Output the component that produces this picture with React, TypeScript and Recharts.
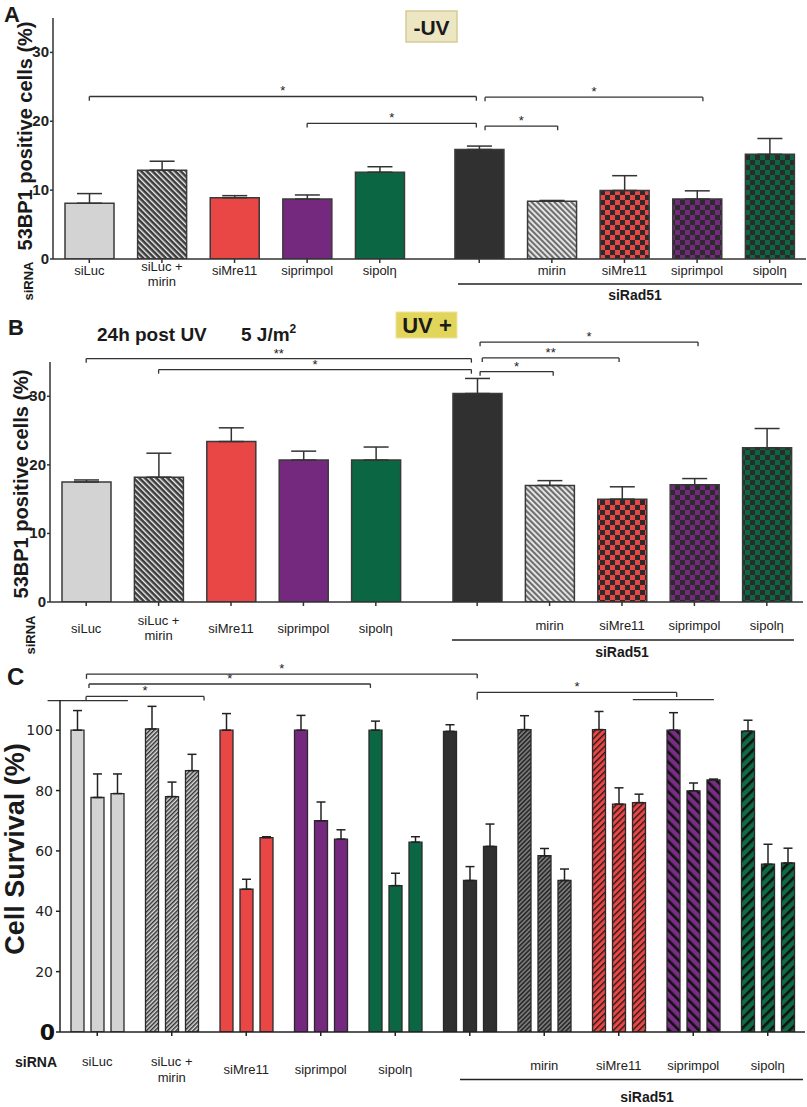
import React from 'react';
import { BarChart, Bar, XAxis, YAxis, ErrorBar, ReferenceLine, Cell } from 'recharts';

const FONT = '"Liberation Sans", Arial, Helvetica, sans-serif';

// Categories: first five without siRad51, last five with siRad51
const categories = ['siLuc', 'siLuc + mirin', 'siMre11', 'siprimpol', 'sipolη', 'siRad51', 'siRad51 + mirin', 'siRad51 + siMre11', 'siRad51 + siprimpol', 'siRad51 + sipolη'];
const tickLabels = ['siLuc', 'siLuc +\nmirin', 'siMre11', 'siprimpol', 'sipolη', '', 'mirin', 'siMre11', 'siprimpol', 'sipolη'];

// Panel A: -UV, 53BP1 positive cells (%)
const noUvValues = [8.1, 12.9, 8.9, 8.7, 12.6, 15.9, 8.4, 9.95, 8.7, 15.2];
const noUvErrors = [1.4, 1.3, 0.3, 0.6, 0.8, 0.5, 0.1, 2.15, 1.2, 2.3];
// Panel B: UV +, 53BP1 positive cells (%)
const uvValues = [17.5, 18.2, 23.4, 20.7, 20.7, 30.4, 17.0, 15.0, 17.1, 22.5];
const uvErrors = [0.3, 3.5, 2.0, 1.3, 1.9, 2.2, 0.7, 1.8, 0.9, 2.8];
// Panel C: cell survival (%), three bars per condition
const survival1 = [100, 100.4, 100, 100, 100, 99.6, 100.2, 100.2, 100, 99.7];
const survival1Err = [6.5, 7.5, 5.5, 4.9, 3.0, 2.2, 4.6, 6.0, 5.8, 3.6];
const survival2 = [77.7, 78.0, 47.3, 70.0, 48.5, 50.2, 58.4, 75.5, 79.9, 55.6];
const survival2Err = [7.8, 4.8, 3.3, 6.2, 4.1, 4.6, 2.4, 5.4, 2.6, 6.6];
const survival3 = [79.0, 86.6, 64.4, 63.9, 62.9, 61.5, 50.2, 76.0, 83.5, 56.0];
const survival3Err = [6.5, 5.4, 0.3, 3.1, 1.8, 7.4, 3.8, 2.8, 0.3, 4.9];

const pctTicks = [0, 10, 20, 30];
const survivalTicks = [0, 20, 40, 60, 80, 100];

type Bracket = { from: number; to: number; level: number; label: string; fromDrop?: number; toDrop?: number };
// significance brackets (category index based)
const noUvBrackets: Bracket[] = [
  { from: 0, to: 4.96, level: 23.6, label: '*' },
  { from: 3, to: 4.96, level: 19.7, label: '*' },
  { from: 5.08, to: 8.08, level: 23.5, label: '*' },
  { from: 5.08, to: 6.08, level: 19.3, label: '*' },
];
const uvBrackets: Bracket[] = [
  { from: 0, to: 4.92, level: 35.5, label: '**' },
  { from: 1, to: 4.92, level: 33.9, label: '*' },
  { from: 5.04, to: 8.05, level: 37.9, label: '*' },
  { from: 5.07, to: 6.96, level: 35.6, label: '**' },
  { from: 5.04, to: 6.05, level: 33.6, label: '*' },
];
const survivalBrackets: Bracket[] = [
  { from: -0.15, to: 0.82, level: 109.8, label: '', fromDrop: 0, toDrop: 0 },
  { from: 0.315, to: 1.74, level: 111.2, label: '*', fromDrop: 1.4, toDrop: 1.4 },
  { from: 0.35, to: 3.75, level: 115.3, label: '*', fromDrop: 1.3, toDrop: 1.3 },
  { from: 0.32, to: 5.04, level: 118.6, label: '*', fromDrop: 1.6, toDrop: 1.4 },
  { from: 5.04, to: 7.45, level: 112.5, label: '*', fromDrop: 2.4, toDrop: 1.5 },
  { from: 6.92, to: 7.9, level: 110.1, label: '', fromDrop: 0, toDrop: 0 },
];

const posOf = (i: number, gap: number) => i + (i >= 4.5 ? gap : 0);

function bracketLines(list: Bracket[], xOf: (v: number) => number, drop: number, xAxisId: any) {
  const out: React.ReactNode[] = [];
  list.forEach((b, k) => {
    const x1 = xOf(b.from);
    const x2 = xOf(b.to);
    const d1 = b.fromDrop ?? drop;
    const d2 = b.toDrop ?? drop;
    out.push(
      <ReferenceLine key={`bh${k}`} xAxisId={xAxisId} segment={[{ x: x1, y: b.level }, { x: x2, y: b.level }]}
        stroke="#333" strokeWidth={1.3} ifOverflow="visible"
        label={b.label ? { value: b.label, position: 'top', offset: 1, fontSize: 13, fill: '#222', fontFamily: FONT } : undefined} />
    );
    if (d1 > 0) out.push(
      <ReferenceLine key={`bl${k}`} xAxisId={xAxisId} segment={[{ x: x1, y: b.level }, { x: x1, y: b.level - d1 }]}
        stroke="#333" strokeWidth={1.3} ifOverflow="visible" />
    );
    if (d2 > 0) out.push(
      <ReferenceLine key={`br${k}`} xAxisId={xAxisId} segment={[{ x: x2, y: b.level }, { x: x2, y: b.level - d2 }]}
        stroke="#333" strokeWidth={1.3} ifOverflow="visible" />
    );
  });
  return out;
}

const makeXTick = (offsets: (i: number) => number[]) => (props: any) => {
  const { x, y, index } = props;
  const axisY = y - 4;
  const lines = (tickLabels[index] || '').split('\n');
  const offs = offsets(index);
  return (
    <g>
      {lines.map((t, k) => (
        <text key={k} x={x} y={axisY + offs[k]} textAnchor="middle" fontSize={13} fill="#222" fontFamily={FONT}>{t}</text>
      ))}
    </g>
  );
};

const BoldYTick = (props: any) => (
  <text x={props.x} y={props.y} dy={5} textAnchor="end" fontWeight="bold" fontSize={15} fill="#222" fontFamily={FONT}>
    {props.payload.value}
  </text>
);

const SurvivalYTick = (props: any) => {
  const v = props.payload.value;
  if (v === 0) {
    return <text x={props.x + 2} y={props.y} dy={8} textAnchor="end" fontWeight="bold" fontSize={22} fill="#111" fontFamily='"DejaVu Sans", sans-serif'>0</text>;
  }
  return <text x={props.x} y={props.y} dy={5} textAnchor="end" fontSize={14} fill="#222" fontFamily='"DejaVu Sans", sans-serif'>{v}</text>;
};

function stripes(id: string, bg: string, fg: string, period: number, w: number, angle: number) {
  return (
    <pattern id={id} width={period} height={period} patternUnits="userSpaceOnUse" patternTransform={`rotate(${angle})`}>
      <rect width={period} height={period} fill={bg} />
      <rect width={w} height={period} fill={fg} />
    </pattern>
  );
}
function checker(id: string, bg: string) {
  return (
    <pattern id={id} width={10} height={10} patternUnits="userSpaceOnUse">
      <rect width={10} height={10} fill={bg} />
      <rect width={5} height={5} fill="#2b2b2b" />
      <rect x={5} y={5} width={5} height={5} fill="#2b2b2b" />
    </pattern>
  );
}

const RED = '#E94646';
const PURPLE = '#74297F';
const GREEN = '#0B6743';
const LIGHT = '#D3D3D3';
const DARK = '#303030';

function PercentPanel(props: {
  prefix: string; values: number[]; errors: number[]; gap: number; brackets: Bracket[];
  height: number; top: number; bottomPlot: number; yAxisWidth: number; right: number;
  offsets: (i: number) => number[];
}) {
  const { prefix, values, errors, gap, brackets, height, top, bottomPlot, yAxisWidth, right, offsets } = props;
  const rows = values.map((v, i) => ({ name: categories[i], pos: posOf(i, gap), value: v, err: [0, errors[i]] }));
  const positions = rows.map(r => r.pos);
  const fills = [LIGHT, `url(#${prefix}HatchDark)`, RED, PURPLE, GREEN, DARK,
    `url(#${prefix}HatchGray)`, `url(#${prefix}CheckRed)`, `url(#${prefix}CheckPurple)`, `url(#${prefix}CheckGreen)`];
  const xAxisHeight = height - bottomPlot;
  return (
    <BarChart width={807} height={height} data={rows} margin={{ top, right, left: 0, bottom: 0 }} barSize={49}>
      <defs>
        {stripes(`${prefix}HatchDark`, '#3c3c3c', '#f2f2f2', 4, 1.4, -45)}
        {stripes(`${prefix}HatchGray`, '#f0f0f0', '#6e6e6e', 4, 2.2, -45)}
        {checker(`${prefix}CheckRed`, RED)}
        {checker(`${prefix}CheckPurple`, PURPLE)}
        {checker(`${prefix}CheckGreen`, GREEN)}
      </defs>
      <XAxis dataKey="pos" type="number" domain={[-0.5, 9.5 + gap]} allowDataOverflow ticks={positions} interval={0}
        height={xAxisHeight} tickSize={4} tickMargin={0} stroke="#333" strokeWidth={1.5}
        tickLine={{ stroke: '#333' }} tick={makeXTick(offsets)} />
      <YAxis type="number" domain={[0, 35]} ticks={pctTicks} width={yAxisWidth} tickSize={3} tickMargin={1}
        stroke="#333" strokeWidth={1.5} tick={BoldYTick} allowDataOverflow />
      <Bar dataKey="value" isAnimationActive={false} stroke="#3a3a3a" strokeWidth={1.5}>
        {rows.map((r, i) => <Cell key={i} fill={fills[i]} />)}
        <ErrorBar dataKey="err" direction="y" width={12.5} stroke="#333" strokeWidth={1.5} />
      </Bar>
      {bracketLines(brackets, (v) => posOf(v, gap), 0.6, 0)}
    </BarChart>
  );
}

function SurvivalPanel() {
  const rows = categories.map((c, i) => ({
    name: c,
    r1: survival1[i], e1: [0, survival1Err[i]],
    r2: survival2[i], e2: [0, survival2Err[i]],
    r3: survival3[i], e3: [0, survival3Err[i]],
  }));
  const fills = [LIGHT, 'url(#cHatchLight)', RED, PURPLE, GREEN, DARK,
    'url(#cHatchGray)', 'url(#cHatchRed)', 'url(#cHatchPurple)', 'url(#cHatchGreen)'];
  const offsets = (i: number) => (i === 0 ? [34] : i === 1 ? [34, 49.5] : i < 5 ? [42] : [37.5]);
  const series: [string, string][] = [['r1', 'e1'], ['r2', 'e2'], ['r3', 'e3']];
  return (
    <BarChart width={807} height={457} data={rows} margin={{ top: 50, right: 2, left: 0, bottom: 0 }} barSize={13} barGap={7}>
      <defs>
        {stripes('cHatchLight', '#dcdcdc', '#333333', 3, 1.5, 45)}
        {stripes('cHatchGray', '#7a7a7a', '#262626', 3.2, 1.5, 45)}
        {stripes('cHatchRed', RED, '#2a1a1a', 4.5, 1.4, 45)}
        {stripes('cHatchPurple', '#7a2c86', '#111', 7, 2.6, -45)}
        {stripes('cHatchGreen', '#0e6b45', '#111', 7, 2.6, 45)}
      </defs>
      <XAxis dataKey="name" type="category" height={75} tickSize={4} tickMargin={0} stroke="#222" strokeWidth={1.5}
        interval={0} tick={makeXTick(offsets)} />
      <XAxis xAxisId="pos" type="number" domain={[-0.5, 9.5]} allowDataOverflow hide />
      <YAxis type="number" domain={[0, 110]} ticks={survivalTicks} width={60} tickSize={4} tickMargin={3}
        stroke="#222" strokeWidth={1.5} tick={SurvivalYTick} allowDataOverflow />
      {series.map(([v, e]) => (
        <Bar key={v} dataKey={v} isAnimationActive={false} stroke="#2a2a2a" strokeWidth={1.3}>
          {rows.map((r, i) => <Cell key={i} fill={fills[i]} />)}
          <ErrorBar dataKey={e} direction="y" width={4.5} stroke="#222" strokeWidth={1.5} />
        </Bar>
      ))}
      {bracketLines(survivalBrackets, (v) => v, 1.3, 'pos')}
    </BarChart>
  );
}

export default function App() {
  const t = { fontFamily: FONT, fill: '#1a1a1a' } as any;
  return (
    <div style={{ position: 'absolute', left: 0, top: 0, width: 807, height: 1107, background: '#fff' }}>
      <div style={{ position: 'absolute', left: 0, top: 0 }}>
        <PercentPanel prefix="a" values={noUvValues} errors={noUvErrors} gap={0.37} brackets={noUvBrackets}
          height={300} top={18} bottomPlot={259} yAxisWidth={53} right={1}
          offsets={(i) => (tickLabels[i].includes('\n') ? [12, 27] : [16])} />
      </div>
      <div style={{ position: 'absolute', left: 0, top: 320 }}>
        <PercentPanel prefix="b" values={uvValues} errors={uvErrors} gap={0.4} brackets={uvBrackets}
          height={330} top={42} bottomPlot={282} yAxisWidth={50} right={4}
          offsets={(i) => (tickLabels[i].includes('\n') ? [23, 38] : i < 5 ? [31] : [28])} />
      </div>
      <div style={{ position: 'absolute', left: 0, top: 650 }}>
        <SurvivalPanel />
      </div>
      <svg width={807} height={1107} style={{ position: 'absolute', left: 0, top: 0, pointerEvents: 'none' }}>
        {/* Panel A */}
        <text x={4} y={22} fontSize={22} fontWeight="bold" {...t}>A</text>
        <rect x={406} y={11} width={51} height={31} fill="#EDE6C2" stroke="#D6CB96" strokeWidth={1.5} />
        <text x={431.5} y={34.5} fontSize={21} fontWeight="bold" textAnchor="middle" {...t}>-UV</text>
        <text transform="translate(25,136) rotate(-90)" fontSize={20} fontWeight="bold" textAnchor="middle" dominantBaseline="central" {...t}>53BP1 positive cells (%)</text>
        <text transform="translate(28,281) rotate(-90)" fontSize={13} fontWeight="bold" textAnchor="middle" dominantBaseline="central" {...t}>siRNA</text>
        <line x1={458} y1={284} x2={802} y2={284} stroke="#222" strokeWidth={1.5} />
        <text x={635} y={300} fontSize={14} fontWeight="bold" textAnchor="middle" {...t}>siRad51</text>

        {/* Panel B */}
        <text x={8} y={335} fontSize={22} fontWeight="bold" {...t}>B</text>
        <text x={97} y={341} fontSize={19} fontWeight="bold" {...t}>24h post UV</text>
        <text x={241} y={341} fontSize={19} fontWeight="bold" {...t}>5 J/m<tspan dy={-8} fontSize={12}>2</tspan></text>
        <rect x={396} y={312} width={61} height={26} fill="#E2D55C" stroke="#EDE4A0" strokeWidth={1} />
        <text x={427} y={333} fontSize={22} fontWeight="bold" textAnchor="middle" {...t}>UV +</text>
        <text transform="translate(21,484) rotate(-90)" fontSize={20} fontWeight="bold" textAnchor="middle" dominantBaseline="central" {...t}>53BP1 positive cells (%)</text>
        <text transform="translate(30,635) rotate(-90)" fontSize={13} fontWeight="bold" textAnchor="middle" dominantBaseline="central" {...t}>siRNA</text>
        <line x1={452} y1={640} x2={794} y2={640} stroke="#222" strokeWidth={1.5} />
        <text x={622} y={657} fontSize={14} fontWeight="bold" textAnchor="middle" {...t}>siRad51</text>

        {/* Panel C */}
        <text x={7} y={685} fontSize={24} fontWeight="bold" {...t}>C</text>
        <text transform="translate(15,849) rotate(-90)" fontSize={27} fontWeight="bold" textAnchor="middle" dominantBaseline="central" {...t}>Cell Survival (%)</text>
        <text x={15} y={1066.5} fontSize={14} fontWeight="bold" {...t}>siRNA</text>
        <line x1={460} y1={1079.5} x2={803} y2={1079.5} stroke="#222" strokeWidth={1.5} />
        <text x={647} y={1102} fontSize={14} fontWeight="bold" textAnchor="middle" {...t}>siRad51</text>
      </svg>
    </div>
  );
}
